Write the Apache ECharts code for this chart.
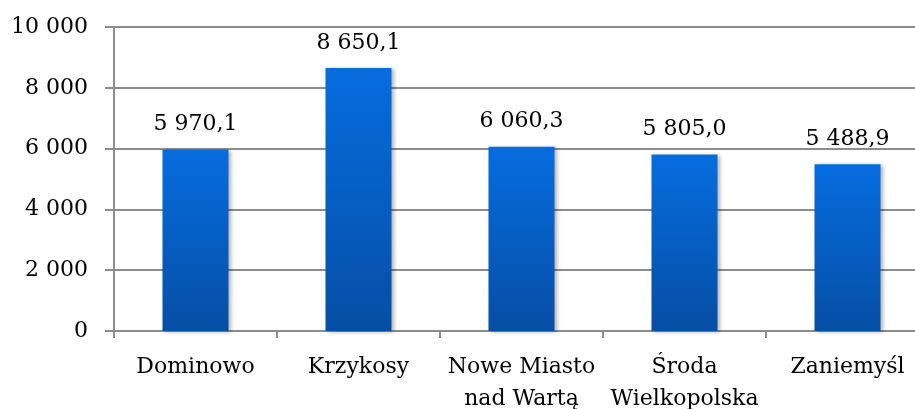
<!DOCTYPE html>
<html><head><meta charset="utf-8">
<script src="https://cdn.jsdelivr.net/npm/echarts@6/dist/echarts.min.js"></script>
<style>html,body{margin:0;padding:0;background:#fff}#c{width:915px;height:409px}</style>
</head><body><div id="c"></div>
<script>
const categories = ["Dominowo", "Krzykosy", "Nowe Miasto\nnad Wartą", "Środa\nWielkopolska", "Zaniemyśl"];
const values = [5970.1, 8650.1, 6060.3, 5805.0, 5488.9];
const yTicks = { min: 0, max: 10000, interval: 2000 };

function fmtInt(v) { return String(Math.round(v)).replace(/\B(?=(\d{3})+(?!\d))/g, ' '); }
function fmtDec(v) {
  const s = v.toFixed(1).split('.');
  return s[0].replace(/\B(?=(\d{3})+(?!\d))/g, ' ') + ',' + s[1];
}
const font = 'DejaVu Serif';
const chart = echarts.init(document.getElementById('c'));
chart.setOption({
  animation: false,
  grid: { left: 114, width: 815, top: 27, bottom: 78, containLabel: false, outerBoundsMode: 'none' },
  xAxis: {
    type: 'category', data: categories,
    axisLine: { lineStyle: { color: '#8c8c8c', width: 2 } },
    axisTick: { show: true, length: 7, lineStyle: { color: '#8c8c8c', width: 2 } },
    axisLabel: { color: '#000', fontFamily: font, fontSize: 22, margin: 20, lineHeight: 32, interval: 0 }
  },
  yAxis: {
    type: 'value', min: yTicks.min, max: yTicks.max, interval: yTicks.interval,
    axisLine: { show: true, lineStyle: { color: '#8c8c8c', width: 2 } },
    axisTick: { show: true, length: 9, lineStyle: { color: '#8c8c8c', width: 2 } },
    splitLine: { lineStyle: { color: '#8c8c8c', width: 2 } },
    axisLabel: { color: '#000', fontFamily: font, fontSize: 22, margin: 26, formatter: fmtInt }
  },
  series: [{
    type: 'bar', data: values, barWidth: 66,
    itemStyle: {
      color: new echarts.graphic.LinearGradient(0, 0, 0, 1, [
        { offset: 0, color: '#066ddf' }, { offset: 1, color: '#064ea5' }
      ]),
      shadowColor: 'rgba(0,0,0,0.3)', shadowBlur: 4, shadowOffsetX: 2, shadowOffsetY: 1
    },
    label: { show: true, position: 'top', distance: 14, color: '#000', fontFamily: font, fontSize: 22,
      formatter: p => fmtDec(p.value) }
  }]
});
</script></body></html>
